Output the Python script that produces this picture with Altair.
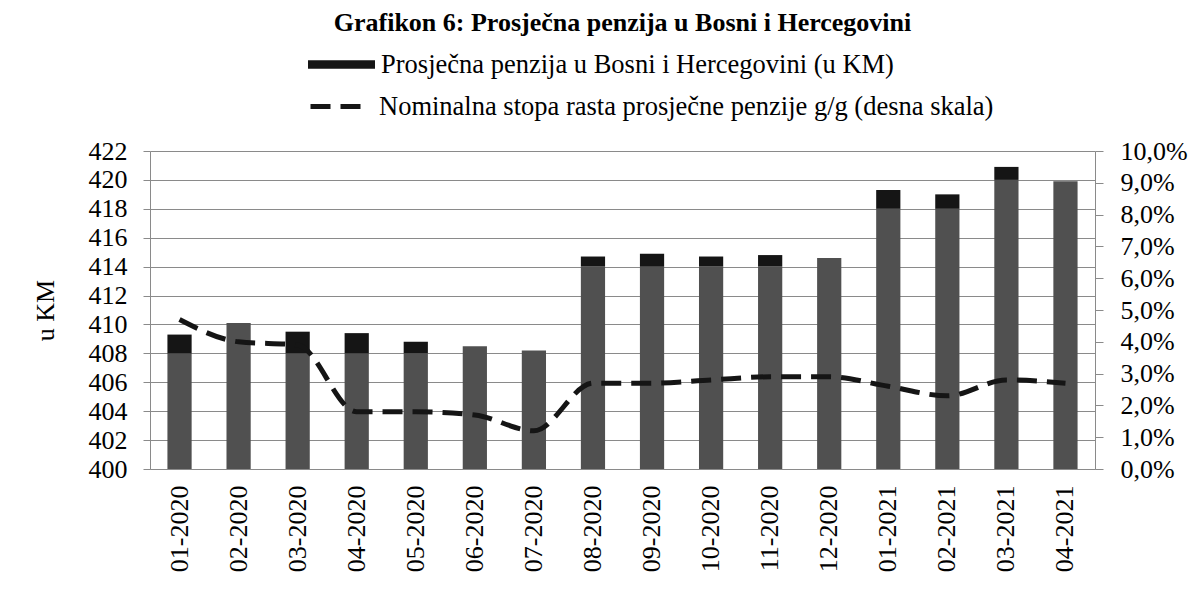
import math
import altair as alt
import pandas as pd

months = ["01-2020", "02-2020", "03-2020", "04-2020", "05-2020", "06-2020",
          "07-2020", "08-2020", "09-2020", "10-2020", "11-2020", "12-2020",
          "01-2021", "02-2021", "03-2021", "04-2021"]
pension = [409.3, 410.1, 409.5, 409.4, 408.8, 408.5, 408.2, 414.7,
           414.9, 414.7, 414.8, 414.6, 419.3, 419.0, 420.9, 419.9]
growth = [4.7, 4.0, 3.9, 1.8, 1.8, 1.7, 1.2, 2.7,
          2.7, 2.8, 2.9, 2.9, 2.6, 2.3, 2.8, 2.7]
capped = [True, False, True, True, True, False, False, True,
          True, True, True, False, True, True, True, False]

bar_label = "Prosječna penzija u Bosni i Hercegovini (u KM)"
line_label = "Nominalna stopa rasta prosječne penzije g/g (desna skala)"
title_text = "Grafikon 6: Prosječna penzija u Bosni i Hercegovini"
left_ticks = list(range(400, 423, 2))
right_ticks = list(range(0, 11, 1))

# bar segments: lower body and the dark top "cap" seen on some printed bars
seg_rows = []
for m, p, c in zip(months, pension, capped):
    cb = math.floor(p / 2) * 2 if c else p
    seg_rows.append({"month": m, "lo": 400, "hi": cb, "kind": "body"})
    if c:
        seg_rows.append({"month": m, "lo": cb, "hi": p, "kind": bar_label})
seg_df = pd.DataFrame(seg_rows)

line_df = pd.DataFrame({"month": months, "growth": growth,
                        "series": [line_label] * len(months)})

FONT = "Liberation Serif"
GRID = "#8a8a8a"
TICKFS = 26
LEGFS = 26.5

x = alt.X("month:N", sort=months, title=None,
          scale=alt.Scale(paddingInner=0.59, paddingOuter=0.295),
          axis=alt.Axis(labelAngle=-90, labelAlign="right", labelBaseline="middle",
                        labelPadding=16, ticks=False, labelFont=FONT, labelFontSize=TICKFS,
                        labelColor="black", domainColor=GRID, labelOverlap=False))

left_axis = alt.Axis(values=left_ticks, grid=True, gridColor=GRID, gridWidth=1,
                     tickSize=7, tickColor=GRID, domainColor=GRID,
                     labelPadding=16, labelFont=FONT, labelFontSize=TICKFS,
                     labelColor="black", titleFont=FONT, titleFontSize=26,
                     titleFontWeight="normal", titleColor="black",
                     titleX=-105, titleY=159, titleAlign="center",
                     titleBaseline="middle", titleAngle=270)

bars = alt.Chart(seg_df).mark_bar().encode(
    x=x,
    y=alt.Y("hi:Q", scale=alt.Scale(domain=[400, 422], nice=False, zero=False),
            title="u KM", axis=left_axis),
    y2="lo:Q",
    color=alt.Color("kind:N",
                    scale=alt.Scale(domain=[bar_label, "body"], range=["#151515", "#505050"]),
                    legend=alt.Legend(title=None, orient="none", legendX=158, legendY=-120,
                                      values=[bar_label],
                                      symbolType="M-1,-0.13L1,-0.13L1,0.13L-1,0.13Z",
                                      symbolSize=4489, labelFont=FONT, labelFontSize=LEGFS,
                                      labelColor="black", labelLimit=2000, labelOffset=6,
                                      symbolStrokeWidth=0)),
)

line = alt.Chart(line_df).mark_line(color="#151515", strokeWidth=5, interpolate="monotone").encode(
    x=x,
    y=alt.Y("growth:Q", scale=alt.Scale(domain=[0, 10], nice=False), title=None,
            axis=alt.Axis(orient="right", values=right_ticks, grid=False,
                          tickSize=8, tickColor=GRID, domainColor=GRID,
                          labelPadding=17, labelFont=FONT, labelFontSize=TICKFS,
                          labelColor="black",
                          labelExpr="replace(format(datum.value, '.1f'), '.', ',') + '%'")),
    strokeDash=alt.StrokeDash("series:N",
                              scale=alt.Scale(domain=[line_label], range=[[20, 10]]),
                              legend=alt.Legend(title=None, orient="none", legendX=158, legendY=-77,
                                                symbolType="stroke", symbolSize=3600,
                                                symbolStrokeWidth=5, symbolStrokeColor="#151515",
                                                labelFont=FONT, labelFontSize=LEGFS,
                                                labelColor="black", labelLimit=2000,
                                                labelOffset=6)),
)

chart = alt.layer(bars, line).resolve_scale(
    y="independent", color="independent", strokeDash="independent"
).properties(
    width=945, height=318,
    padding={"left": 142, "top": 143, "right": 98, "bottom": 128},
    autosize=alt.AutoSizeParams(type="none"),
    background="white",
    title=alt.TitleParams(text=title_text, font=FONT, fontSize=26, fontWeight="bold",
                          anchor="middle", offset=-5, color="black"),
).configure_view(stroke=None).configure_axis(
    labelFont=FONT, titleFont=FONT, labelColor="black", titleColor="black"
).configure_legend(labelFont=FONT).configure_title(font=FONT)

chart.save("out.html", embed_options={"renderer": "svg", "actions": False})
